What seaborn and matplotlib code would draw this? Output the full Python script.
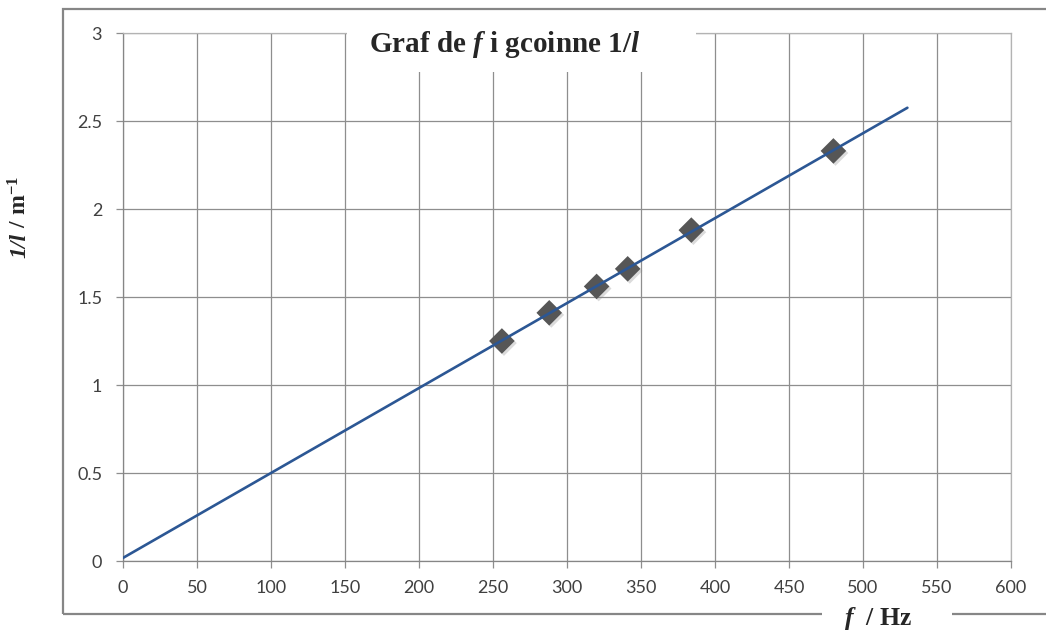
"""Graf de f i gcoinne 1/l - recreated with seaborn."""
import numpy as np
import pandas as pd
import seaborn as sns
import matplotlib.pyplot as plt
import matplotlib.patheffects as pe
from matplotlib.patches import Rectangle

# data
freq_hz = [256, 288, 320, 341, 384, 480]
inv_length = [1.25, 1.41, 1.56, 1.66, 1.88, 2.33]
fit_range = [0, 530]
x_ticks = [0, 50, 100, 150, 200, 250, 300, 350, 400, 450, 500, 550, 600]
y_ticks = [0, 0.5, 1, 1.5, 2, 2.5, 3]
y_tick_labels = ["0", "0.5", "1", "1.5", "2", "2.5", "3"]

points = pd.DataFrame({"f": freq_hz, "inv_l": inv_length})
slope, intercept = np.polyfit(points["f"], points["inv_l"], 1)
fit_x = np.array(fit_range, dtype=float)
fit = pd.DataFrame({"f": fit_x, "inv_l": slope * fit_x + intercept})

sns.set_theme(style="white")
plt.rcParams["font.family"] = ["Lato", "DejaVu Sans"]
plt.rcParams["mathtext.fontset"] = "custom"
plt.rcParams["mathtext.rm"] = "Liberation Serif:bold"
plt.rcParams["mathtext.bf"] = "Liberation Serif:bold"
plt.rcParams["mathtext.it"] = "Liberation Serif:italic:bold"

fig = plt.figure(figsize=(10.46, 6.33), dpi=100)
ax = fig.add_axes([123 / 1046, 1 - 561 / 633, (1011 - 123) / 1046, (561 - 33) / 633])

grid_col = "#8e8e8e"
ax.grid(True, color=grid_col, linewidth=0.9)
ax.set_axisbelow(True)

sns.scatterplot(data=points, x="f", y="inv_l", marker="D", s=170,
                color="#565656", edgecolor="none", ax=ax, zorder=3,
                path_effects=[pe.SimplePatchShadow(offset=(1.5, -1.5), alpha=0.3,
                                                   shadow_rgbFace="#888888"),
                              pe.Normal()])
sns.lineplot(data=fit, x="f", y="inv_l", color="#2c5794", linewidth=1.9,
             ax=ax, zorder=4)

ax.set_xlim(0, 600)
ax.set_ylim(0, 3)
ax.set_xticks(x_ticks)
ax.set_yticks(y_ticks)
ax.set_yticklabels(y_tick_labels)
ax.set_xlabel("")
ax.set_ylabel("")

ax.tick_params(axis="both", which="major", direction="out", length=5,
               width=0.9, color=grid_col, labelsize=13, labelcolor="#404040",
               bottom=True, left=True)
ax.tick_params(axis="x", pad=9)
ax.tick_params(axis="y", pad=10)
for side in ["left", "bottom"]:
    ax.spines[side].set_color("#868686")
    ax.spines[side].set_linewidth(0.9)
for side in ["top", "right"]:
    ax.spines[side].set_color("#b3b3b3")
    ax.spines[side].set_linewidth(0.9)

# outer chart frame
fig.patches.append(Rectangle((63 / 1046, 1 - 614 / 633), 1.0, (614 - 9) / 633,
                             transform=fig.transFigure, fill=False,
                             edgecolor="#868686", linewidth=1.6, zorder=0))

# title on a white box over the grid
fig.patches.append(Rectangle((347 / 1046, 1 - 72 / 633), (696 - 347) / 1046,
                             (72 - 12) / 633, transform=fig.transFigure,
                             facecolor="white", edgecolor="none", zorder=5))
fig.text(505 / 1046, 1 - 44 / 633, r"Graf de $f$ i gcoinne 1/$l$",
         ha="center", va="center", fontsize=21, fontweight="bold",
         family="Liberation Serif", zorder=6)

# y axis title: italic "1/l" followed by " / m^-1"
ylab = fig.text(20 / 1046, 1 - 258 / 633, "1/l", rotation=90,
                ha="center", va="bottom", fontsize=17, fontweight="bold",
                fontstyle="italic", family="Liberation Serif")
fig.canvas.draw()
fig.text(0, 0, r" / m$^{-1}$", rotation=90, ha="center", va="bottom",
         fontsize=17, fontweight="bold", family="Liberation Serif",
         transform=ylab.get_transform()).set_position(
    (20 / 1046, fig.transFigure.inverted().transform(
        (0, ylab.get_window_extent().y1))[1]))

# x axis title on a white box over the frame
fig.patches.append(Rectangle((822 / 1046, 0), (952 - 822) / 1046, 38 / 633,
                             transform=fig.transFigure, facecolor="white",
                             edgecolor="none", zorder=5))
fig.text(878 / 1046, 1 - 619 / 633, r"$f$  / Hz", ha="center", va="center",
         fontsize=18.5, fontweight="bold", family="Liberation Serif", zorder=6)

fig.savefig("out.png", dpi=100, facecolor="white")
